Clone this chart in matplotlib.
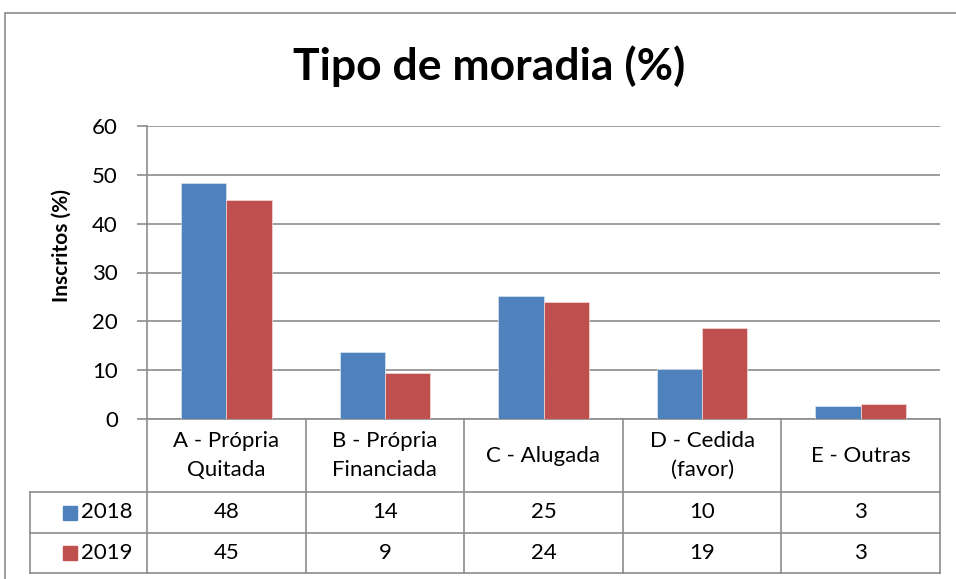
import matplotlib.pyplot as plt
import matplotlib.transforms as mtransforms
from matplotlib.lines import Line2D
from matplotlib.patches import Rectangle
import numpy as np

# data
categories = ['A - Própria\nQuitada', 'B - Própria\nFinanciada', 'C - Alugada',
              'D - Cedida\n(favor)', 'E - Outras']
years = ['2018', '2019']
vals_2018 = [48.3, 13.8, 25.1, 10.3, 2.6]
vals_2019 = [44.8, 9.4, 24.0, 18.7, 3.1]
colors = ['#4F81BD', '#C0504D']
yticks = [0, 10, 20, 30, 40, 50, 60]

W, H = 956, 579
FONT = ['Lato', 'DejaVu Sans']
plt.rcParams['font.family'] = FONT
grid_c = '#8c8c8c'
FS = 15


def fx(x):
    return x / W


def fy(y):
    return 1 - y / H


fig = plt.figure(figsize=(W / 100, H / 100), dpi=100)
ax = fig.add_axes([fx(147), fy(419), (940 - 147) / W, (419 - 126) / H])

x = np.arange(len(categories))
bw = 0.285
ax.bar(x - bw / 2, vals_2018, bw, color=colors[0], edgecolor='#dce6f2', linewidth=0.5, zorder=3)
ax.bar(x + bw / 2, vals_2019, bw, color=colors[1], edgecolor='#f2dcdb', linewidth=0.5, zorder=3)

ax.set_xlim(-0.5, len(categories) - 0.5)
ax.set_ylim(0, 60)
ax.set_yticks(yticks)
ax.set_yticklabels([str(t) for t in yticks], fontsize=FS + 1)
ax.set_xticks([])
ax.yaxis.grid(True, color=grid_c, linewidth=1.2, zorder=0)
for s in ['top', 'right']:
    ax.spines[s].set_visible(False)
ax.spines['left'].set_color(grid_c)
ax.spines['left'].set_linewidth(1.2)
ax.spines['bottom'].set_color(grid_c)
ax.spines['bottom'].set_linewidth(1.2)
ax.tick_params(axis='y', length=7, width=1.2, color=grid_c, pad=14)

fig.text(fx(62), fy(245), 'Inscritos (%)', fontsize=15, fontweight='bold',
         rotation=90, ha='center', va='center')
fig.text(0.512, fy(66), 'Tipo de moradia (%)', fontsize=32, fontweight='bold',
         ha='center', va='center')

# data table below the axis
trans = mtransforms.blended_transform_factory(ax.transData, fig.transFigure)
y_head, y_r1, y_r2, y_end = fy(419), fy(492), fy(533), fy(573)
for b in np.arange(len(categories) + 1) - 0.5:
    fig.add_artist(Line2D([b, b], [y_head, y_end], transform=trans, color=grid_c, lw=1.2))
for yy in [y_r1, y_r2, y_end]:
    fig.add_artist(Line2D([fx(30), fx(940)], [yy, yy], color=grid_c, lw=1.2))
fig.add_artist(Line2D([fx(30), fx(30)], [y_r1, y_end], color=grid_c, lw=1.2))

for i, cat in enumerate(categories):
    fig.text(x[i], (y_head + y_r1) / 2, cat, transform=trans, ha='center', va='center',
             fontsize=FS + 1, linespacing=1.55)
    fig.text(x[i], (y_r1 + y_r2) / 2, str(round(vals_2018[i])), transform=trans,
             ha='center', va='center', fontsize=FS + 1)
    fig.text(x[i], (y_r2 + y_end) / 2, str(round(vals_2019[i])), transform=trans,
             ha='center', va='center', fontsize=FS + 1)

for yr, c, (top, bot) in zip(years, colors, [(y_r1, y_r2), (y_r2, y_end)]):
    mid = (top + bot) / 2
    sq = 14
    fig.add_artist(Rectangle((fx(63), mid - sq / 2 / H), sq / W, sq / H, color=c))
    fig.text(fx(81), mid, yr, ha='left', va='center', fontsize=FS + 1)

# outer chart border
fig.add_artist(Rectangle((fx(5), fy(590)), fx(960), (590 - 13) / H, fill=False,
                         edgecolor=grid_c, lw=1.2))

fig.savefig('out.png', dpi=100)
